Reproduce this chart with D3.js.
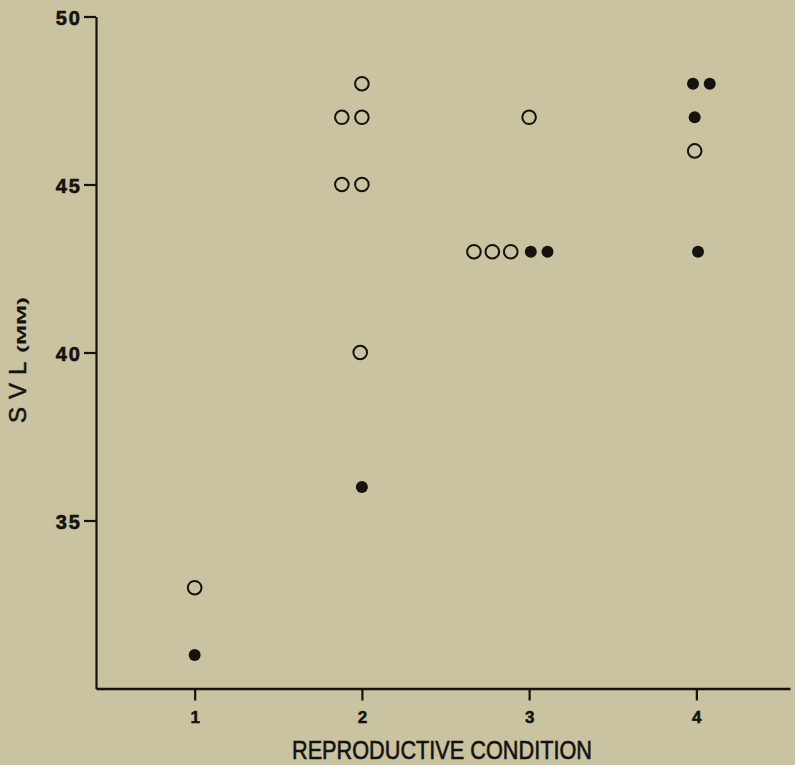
<!DOCTYPE html>
<html>
<head>
<meta charset="utf-8">
<script src="https://cdn.jsdelivr.net/npm/d3@7"></script>
<style>
  html, body { margin: 0; padding: 0; background: #c9c3a1; }
  svg { display: block; }
  .tick text { font-family: "Liberation Sans", Arial, sans-serif; font-weight: bold; }
</style>
</head>
<body>
<svg id="chart" width="795" height="765"></svg>
<script>
// SVL (snout-vent length, mm) by reproductive condition.
// Points sharing a value are set side by side, so x holds the plotted position.
const conditionTicks = [1, 2, 3, 4];
const svlTicks = [35, 40, 45, 50];

// open circles
const openX = [1.00, 2.00, 1.88, 2.00, 1.88, 2.00, 1.99, 3.00, 2.67, 2.78, 2.89, 3.99];
const openY = [33, 48, 47, 47, 45, 45, 40, 47, 43, 43, 43, 46];

// filled circles
const filledX = [1.00, 2.00, 3.01, 3.11, 3.98, 4.08, 3.99, 4.01];
const filledY = [31, 36, 43, 43, 48, 48, 47, 43];

const ink = "#16120e";
const svg = d3.select("#chart");

const x = d3.scaleLinear().domain([0.41, 4.56]).range([96, 790]);
const y = d3.scaleLinear().domain([30, 50]).range([688.5, 16.5]);

// y axis
const gy = svg.append("g")
  .attr("transform", `translate(${x(0.41)},0)`)
  .call(d3.axisLeft(y).tickValues(svlTicks).tickFormat(d3.format("d"))
    .tickSize(12).tickSizeOuter(0).tickPadding(2));
gy.select(".domain").attr("stroke", ink).attr("stroke-width", 2.2);
gy.selectAll(".tick line").attr("stroke", ink).attr("stroke-width", 2.2);
gy.selectAll(".tick text").attr("fill", ink).attr("font-size", 20)
  .attr("stroke", ink).attr("stroke-width", 0.6)
  .attr("letter-spacing", 2).attr("dy", "0.38em");

// x axis
const gx = svg.append("g")
  .attr("transform", `translate(0,${y(30)})`)
  .call(d3.axisBottom(x).tickValues(conditionTicks).tickFormat(d3.format("d"))
    .tickSize(12).tickSizeOuter(0).tickPadding(10));
gx.select(".domain").attr("stroke", ink).attr("stroke-width", 2.4);
gx.selectAll(".tick line").attr("stroke", ink).attr("stroke-width", 2.2);
gx.selectAll(".tick text").attr("fill", ink).attr("font-size", 17)
  .attr("stroke", ink).attr("stroke-width", 0.5);

// axis titles
svg.append("text")
  .attr("x", 442).attr("y", 759)
  .attr("text-anchor", "middle")
  .attr("font-family", "'Liberation Sans', Arial, sans-serif")
  .attr("font-size", 25)
  .attr("textLength", 300).attr("lengthAdjust", "spacingAndGlyphs")
  .attr("fill", ink)
  .attr("stroke", ink).attr("stroke-width", 0.6)
  .text("REPRODUCTIVE CONDITION");

const yTitle = svg.append("g").attr("transform", "translate(26,423) rotate(-90)");
yTitle.append("text")
  .attr("x", 0).attr("y", 0)
  .attr("font-family", "'Liberation Sans', Arial, sans-serif")
  .attr("font-size", 24)
  .attr("letter-spacing", 8)
  .attr("fill", ink)
  .attr("stroke", ink).attr("stroke-width", 0.5)
  .text("SVL");
yTitle.append("text")
  .attr("x", 70).attr("y", 0)
  .attr("font-family", "'Liberation Sans', Arial, sans-serif")
  .attr("font-size", 12.5)
  .attr("font-weight", "bold")
  .attr("textLength", 56).attr("lengthAdjust", "spacingAndGlyphs")
  .attr("fill", ink)
  .text("(MM)");

// points
svg.append("g").selectAll("circle")
  .data(d3.zip(openX, openY))
  .join("circle")
  .attr("cx", d => x(d[0]))
  .attr("cy", d => y(d[1]))
  .attr("r", 6.8)
  .attr("fill", "none")
  .attr("stroke", ink)
  .attr("stroke-width", 2);

svg.append("g").selectAll("circle")
  .data(d3.zip(filledX, filledY))
  .join("circle")
  .attr("cx", d => x(d[0]))
  .attr("cy", d => y(d[1]))
  .attr("r", 6)
  .attr("fill", ink);
</script>
</body>
</html>
